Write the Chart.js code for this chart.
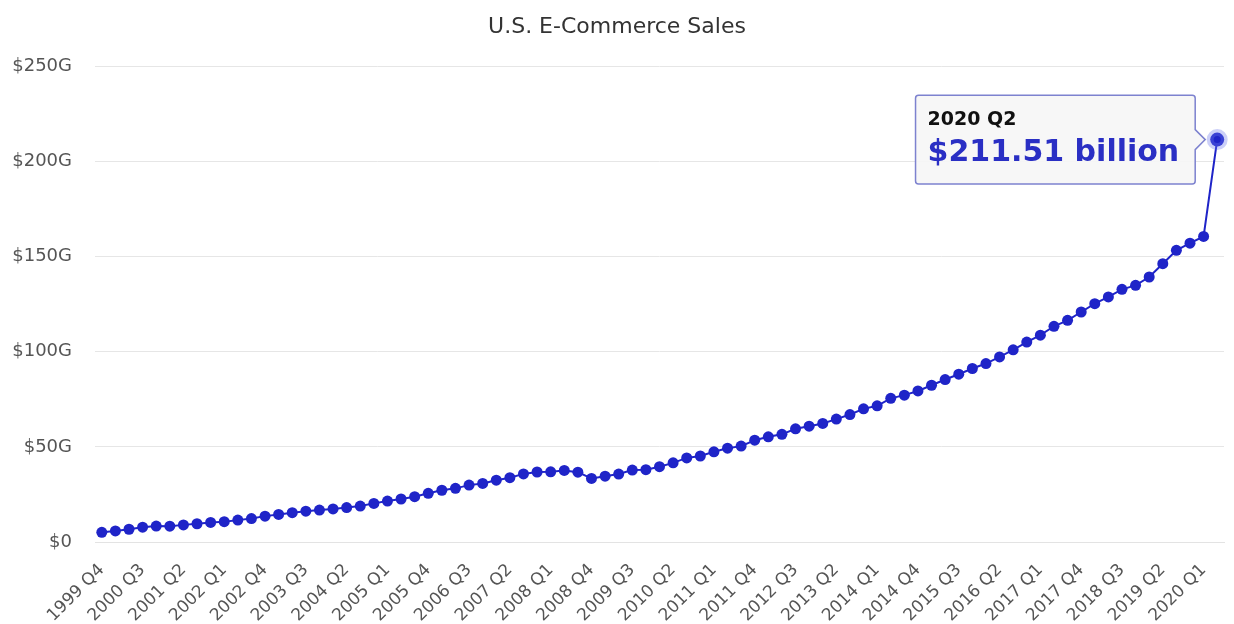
<!DOCTYPE html>
<html>
<head>
<meta charset="utf-8">
<script src="https://cdn.jsdelivr.net/npm/chart.js@4/dist/chart.umd.min.js"></script>
<style>
  html, body { margin: 0; padding: 0; background: #fff; }
  #wrap { width: 1234px; height: 624px; }
</style>
</head>
<body>
<div id="wrap"><canvas id="salesChart"></canvas></div>
<script>
// quarters 1999 Q4 .. 2020 Q2
const firstYear = 1999;
const quarters = [];
for (let y = firstYear; y <= 2020; y++) {
    for (let q = 1; q <= 4; q++) {
        if (y === 1999 && q < 4) continue;
        if (y === 2020 && q > 2) continue;
        quarters.push(y + ' Q' + q);
    }
}

// e-commerce sales, billions of dollars
const sales = [
    5.1, 5.8, 6.7, 7.8, 8.4, 8.3, 9.0, 9.6, 10.3, 10.7,
    11.5, 12.3, 13.6, 14.5, 15.4, 16.2, 16.8, 17.4, 18.1, 18.9,
    20.3, 21.5, 22.6, 23.8, 25.6, 27.2, 28.2, 29.9, 30.8, 32.5,
    33.8, 35.8, 36.8, 36.9, 37.6, 36.7, 33.4, 34.6, 35.7, 37.8,
    38.0, 39.6, 41.6, 44.2, 45.2, 47.4, 49.3, 50.4, 53.5, 55.3,
    56.6, 59.5, 60.9, 62.3, 64.6, 67.0, 70.0, 71.6, 75.5, 77.2,
    79.4, 82.4, 85.4, 88.2, 91.2, 93.8, 97.3, 101.0, 105.1, 108.7,
    113.4, 116.5, 120.9, 125.3, 128.8, 132.8, 134.9, 139.3, 146.3, 153.3,
    157.1, 160.6, 211.51
];

const yTicks = [0, 50, 100, 150, 200, 250];
const lineColor = '#1f24c8';

const ctx = document.getElementById('salesChart').getContext('2d');
const chart = new Chart(ctx, {
    type: 'line',
    data: {
        labels: quarters,
        datasets: [{
            label: 'E-Commerce Sales',
            data: sales,
            borderColor: lineColor,
            backgroundColor: lineColor,
            borderWidth: 2,
            pointRadius: 5.5,
            pointBorderWidth: 0,
            pointHoverRadius: 7,
            pointHoverBackgroundColor: lineColor,
            pointHoverBorderColor: 'rgba(110, 120, 235, 0.35)',
            pointHoverBorderWidth: 7,
            tension: 0
        }]
    },
    options: {
        responsive: true,
        maintainAspectRatio: false,
        animation: false,
        events: [],
        layout: {
            padding: { left: 10, right: 10, top: 0, bottom: 0 }
        },
        plugins: {
            legend: { display: false },
            title: {
                display: true,
                text: 'U.S. E-Commerce Sales',
                color: '#333',
                font: { family: 'DejaVu Sans', size: 22, weight: 'normal' },
                padding: { top: 14, bottom: 26 }
            },
            tooltip: {
                enabled: true,
                xAlign: 'right',
                yAlign: 'center',
                backgroundColor: 'rgba(246, 246, 246, 0.9)',
                borderColor: '#7d82cf',
                borderWidth: 1.5,
                cornerRadius: 3,
                caretSize: 10,
                caretPadding: 12,
                padding: { left: 12, right: 16, top: 13, bottom: 13 },
                displayColors: false,
                titleColor: '#111',
                titleFont: { family: 'DejaVu Sans', size: 19, weight: 'bold' },
                titleMarginBottom: 4,
                bodyColor: '#2a2fc4',
                bodyFont: { family: 'DejaVu Sans', size: 30, weight: 'bold' },
                callbacks: {
                    label: item => '$' + item.parsed.y.toFixed(2) + ' billion'
                }
            }
        },
        scales: {
            x: {
                offset: true,
                grid: { display: false, offset: false },
                border: { color: '#e3e3e3' },
                afterFit: scale => {
                    scale.paddingLeft = 0;
                    scale.paddingRight = 0;
                    scale.height = 82;
                },
                ticks: {
                    autoSkip: false,
                    minRotation: 45,
                    maxRotation: 45,
                    padding: 10,
                    color: '#555',
                    font: { family: 'DejaVu Sans', size: 17 },
                    callback: function (val, index) {
                        return index % 3 === 0 ? quarters[index] : '';
                    }
                }
            },
            y: {
                min: 0,
                max: 250,
                afterBuildTicks: axis => {
                    axis.ticks = yTicks.map(v => ({ value: v }));
                },
                afterFit: scale => {
                    scale.width = 85;
                },
                grid: { color: '#e6e6e6', drawTicks: false },
                border: { display: false },
                ticks: {
                    padding: 23,
                    color: '#555',
                    font: { family: 'DejaVu Sans', size: 18 },
                    callback: v => v === 0 ? '$0' : '$' + v + 'G'
                }
            }
        }
    }
});

// keep the last quarter highlighted with its tooltip, as in the picture
const last = [{ datasetIndex: 0, index: sales.length - 1 }];
chart.setActiveElements(last);
chart.tooltip.setActiveElements(last, { x: 0, y: 0 });
chart.update();
</script>
</body>
</html>
